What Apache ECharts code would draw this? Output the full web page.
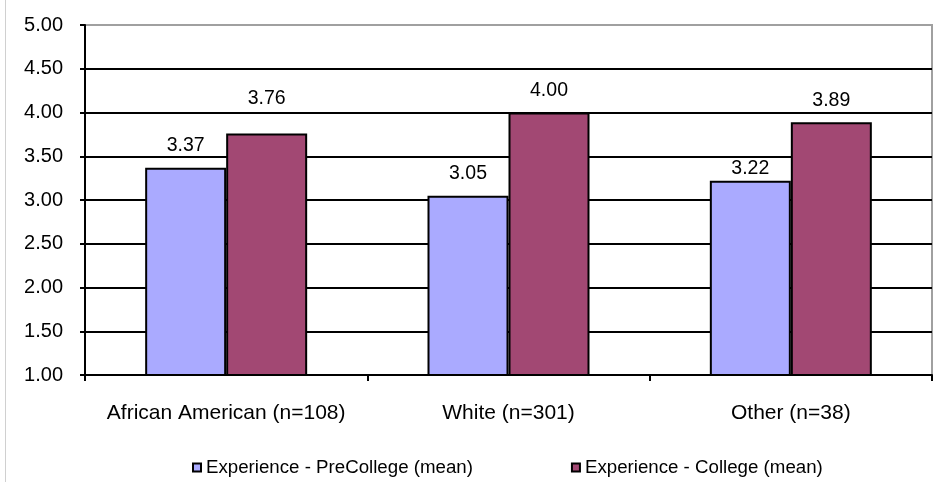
<!DOCTYPE html>
<html>
<head>
<meta charset="utf-8">
<script src="https://cdn.jsdelivr.net/npm/echarts@6/dist/echarts.min.js"></script>
<style>
  html, body { margin: 0; padding: 0; background: #fff; }
  #chart { width: 950px; height: 482px; }
</style>
</head>
<body>
<div id="chart"></div>
<script>
// Mean experience scores by group
const categories = ['African American (n=108)', 'White (n=301)', 'Other (n=38)'];
const seriesNames = ['Experience - PreCollege (mean)', 'Experience - College (mean)'];
const preCollege = [3.37, 3.05, 3.22];
const college = [3.76, 4.00, 3.89];
const yTicks = [1.0, 1.5, 2.0, 2.5, 3.0, 3.5, 4.0, 4.5, 5.0];

const FONT = 'Liberation Sans, Arial, sans-serif';
const chart = echarts.init(document.getElementById('chart'), null, { renderer: 'canvas' });

// gridlines are black, except the top one which forms the plot frame
const gridColors = yTicks.map((v, i) => i === yTicks.length - 1 ? '#a0a0a0' : '#000');

const barLabel = {
  show: true,
  position: 'top',
  distance: 12,
  color: '#000',
  fontFamily: FONT,
  fontSize: 19.5,
  formatter: p => p.value.toFixed(2)
};

// a few value labels sit nudged off the gridlines
const labelNudge = { pre: { 2: 9.5 }, col: { 0: -12.5 } };
const withNudge = (vals, nudge) => vals.map((v, i) =>
  nudge[i] !== undefined ? { value: v, label: { offset: [0, nudge[i]] } } : v);

chart.setOption({
  animation: false,
  backgroundColor: '#fff',
  graphic: [{
    type: 'line',
    shape: { x1: 5.5, y1: 0, x2: 5.5, y2: 482 },
    style: { stroke: '#d0d0d0', lineWidth: 1 },
    silent: true
  }],
  grid: {
    left: 85, right: 18, top: 25, bottom: 107,
    show: true, borderColor: '#a0a0a0', borderWidth: 2, backgroundColor: 'transparent'
  },
  legend: {
    left: 187, top: 453,
    itemGap: 98,
    itemWidth: 8, itemHeight: 8,
    icon: 'rect',
    textStyle: { color: '#000', fontFamily: FONT, fontSize: 18.7, padding: [0, 0, 0, 0] },
    data: seriesNames
  },
  xAxis: {
    type: 'category',
    data: categories,
    axisLine: { lineStyle: { color: '#000', width: 2 } },
    axisTick: { show: true, alignWithLabel: false, length: 6, lineStyle: { color: '#000', width: 2 } },
    axisLabel: { color: '#000', fontFamily: FONT, fontSize: 21, margin: 28, interval: 0 },
    splitLine: { show: false }
  },
  yAxis: {
    type: 'value',
    min: yTicks[0], max: yTicks[yTicks.length - 1], interval: 0.5,
    axisLine: { show: true, lineStyle: { color: '#000', width: 2 } },
    axisTick: { show: true, length: 5, lineStyle: { color: '#000', width: 2 } },
    axisLabel: { color: '#000', fontFamily: FONT, fontSize: 20, margin: 22, formatter: v => v.toFixed(2) },
    splitLine: { show: true, lineStyle: { color: gridColors, width: 2 } }
  },
  series: [
    {
      name: seriesNames[0], type: 'bar', data: withNudge(preCollege, labelNudge.pre),
      barWidth: 81, barGap: '0%',
      itemStyle: { color: '#aaaaff', borderColor: '#000', borderWidth: 2 },
      label: barLabel
    },
    {
      name: seriesNames[1], type: 'bar', data: withNudge(college, labelNudge.col),
      barWidth: 81, barGap: '0%',
      itemStyle: { color: '#a24873', borderColor: '#000', borderWidth: 2 },
      label: barLabel
    }
  ]
});
</script>
</body>
</html>
